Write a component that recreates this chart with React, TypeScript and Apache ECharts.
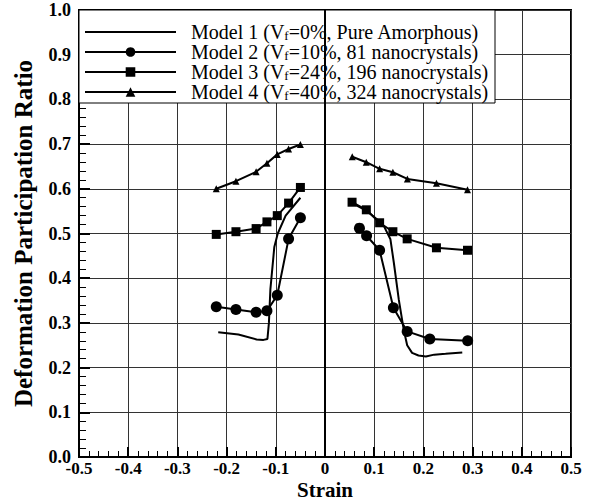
import React, { useEffect, useRef } from "react";
import * as echarts from "echarts";

// ---- data ----
const model1Left: [number, number][] = [
  [-0.217, 0.279], [-0.176, 0.274], [-0.139, 0.263], [-0.125, 0.262], [-0.117, 0.264],
  [-0.114, 0.3], [-0.111, 0.375], [-0.103, 0.47], [-0.096, 0.5], [-0.08, 0.54], [-0.05, 0.58],
];
const model1Right: [number, number][] = [
  [0.055, 0.568], [0.083, 0.552], [0.11, 0.528], [0.12, 0.516], [0.133, 0.487],
  [0.14, 0.434], [0.15, 0.352], [0.16, 0.285], [0.167, 0.25], [0.177, 0.233],
  [0.19, 0.227], [0.205, 0.225], [0.222, 0.229], [0.245, 0.231], [0.279, 0.234],
];
const model2Left: [number, number][] = [
  [-0.221, 0.336], [-0.181, 0.33], [-0.14, 0.324], [-0.118, 0.327], [-0.097, 0.362],
  [-0.074, 0.488], [-0.05, 0.535],
];
const model2Right: [number, number][] = [
  [0.07, 0.512], [0.0845, 0.495], [0.111, 0.4625], [0.139, 0.334], [0.167, 0.281],
  [0.213, 0.264], [0.29, 0.26],
];
const model3Left: [number, number][] = [
  [-0.221, 0.498], [-0.181, 0.504], [-0.14, 0.511], [-0.118, 0.526], [-0.097, 0.54],
  [-0.074, 0.568], [-0.05, 0.603],
];
const model3Right: [number, number][] = [
  [0.055, 0.57], [0.084, 0.553], [0.111, 0.524], [0.138, 0.504], [0.167, 0.488],
  [0.2265, 0.468], [0.2896, 0.4625],
];
const model4Left: [number, number][] = [
  [-0.221, 0.6], [-0.181, 0.617], [-0.14, 0.638], [-0.118, 0.657], [-0.097, 0.677],
  [-0.074, 0.689], [-0.05, 0.699],
];
const model4Right: [number, number][] = [
  [0.0554, 0.6716], [0.0839, 0.6595], [0.111, 0.6447], [0.138, 0.637], [0.1674, 0.622],
  [0.2265, 0.6125], [0.2896, 0.598],
];

const seriesNames = [
  "Model 1 (V{sub|f}=0%, Pure Amorphous)",
  "Model 2 (V{sub|f}=10%, 81 nanocrystals)",
  "Model 3 (V{sub|f}=24%, 196 nanocrystals)",
  "Model 4 (V{sub|f}=40%, 324 nanocrystals)",
];
const seriesNameKeys = ["Model 1", "Model 2", "Model 3", "Model 4"];
const xLabel = "Strain";
const yLabel = "Deformation Participation Ratio";

const SERIF = "Liberation Serif";

export default function App() {
  const ref = useRef<HTMLDivElement>(null);
  useEffect(() => {
    if (!ref.current) return;
    const chart = echarts.init(ref.current, undefined, { renderer: "svg" });

    const mk = (
      key: number,
      data: [number, number][],
      symbol: string,
      symbolSize: number,
      extra: any = {}
    ) => ({
      type: "line",
      name: seriesNameKeys[key],
      data,
      symbol: symbol,
      showSymbol: symbolSize > 0,
      symbolSize,
      lineStyle: { color: "#000", width: 2 },
      itemStyle: { color: "#000" },
      ...extra,
    });

    const option: any = {
      animation: false,
      backgroundColor: "#fff",
      grid: {
        left: 79,
        right: 21,
        top: 10,
        bottom: 45,
        outerBoundsMode: "none",
        containLabel: false,
        show: true,
        borderColor: "#000",
        borderWidth: 2,
        backgroundColor: "transparent",
      },
      xAxis: {
        type: "value",
        min: -0.5,
        max: 0.5,
        interval: 0.1,
        name: xLabel,
        nameLocation: "middle",
        nameGap: 22,
        nameMoveOverlap: false,
        nameTextStyle: { fontFamily: SERIF, fontWeight: "bold", fontSize: 21, lineHeight: 21, color: "#000" },
        axisLine: { show: true, onZero: false, lineStyle: { color: "#000", width: 2 } },
        axisTick: { show: true, inside: true, length: 10, lineStyle: { color: "#000", width: 2 } },
        minorTick: { show: true, splitNumber: 5, length: 6, lineStyle: { color: "#000", width: 1 } },
        splitLine: { show: true, lineStyle: { color: "#333", width: 1 } },
        axisLabel: {
          fontFamily: SERIF,
          fontWeight: "bold",
          fontSize: 17,
          lineHeight: 14,
          color: "#000",
          margin: 4,
          formatter: (v: number) => (Math.abs(v) < 1e-9 ? "0" : v.toFixed(1)),
        },
      },
      yAxis: {
        type: "value",
        min: 0,
        max: 1,
        interval: 0.1,
        name: yLabel,
        nameLocation: "middle",
        nameGap: 43,
        nameMoveOverlap: false,
        nameTextStyle: { fontFamily: SERIF, fontWeight: "bold", fontSize: 25, color: "#000" },
        axisLine: { show: true, onZero: false, lineStyle: { color: "#000", width: 2 } },
        axisTick: { show: true, inside: true, length: 11, lineStyle: { color: "#000", width: 2 } },
        minorTick: { show: true, splitNumber: 5, length: 7, lineStyle: { color: "#000", width: 1 } },
        splitLine: { show: true, lineStyle: { color: "#333", width: 1 } },
        axisLabel: {
          fontFamily: SERIF,
          fontWeight: "bold",
          fontSize: 18,
          lineHeight: 14,
          color: "#000",
          margin: 8,
          formatter: (v: number) => v.toFixed(1),
        },
      },
      legend: {
        show: true,
        orient: "vertical",
        left: 84,
        top: 22,
        padding: 0,
        itemGap: 0,
        itemWidth: 91,
        itemHeight: 12,
        data: [
          { name: seriesNameKeys[0], itemStyle: { color: "rgba(0,0,0,0)", borderWidth: 0 } },
          seriesNameKeys[1],
          seriesNameKeys[2],
          seriesNameKeys[3],
        ],
        formatter: (name: string) => seriesNames[seriesNameKeys.indexOf(name)],
        textStyle: {
          fontFamily: SERIF,
          fontSize: 20,
          color: "#000",
          lineHeight: 19,
          padding: [0, 0, 0, 10],
          rich: {
            sub: { fontFamily: SERIF, fontSize: 13, lineHeight: 4, verticalAlign: "bottom", color: "#000" },
          },
        },
      },
      graphic: [
        {
          type: "rect",
          z: 3,
          shape: { x: 79, y: 10, width: 416, height: 93 },
          style: { fill: "#fff", stroke: "#000", lineWidth: 1 },
        },
      ],
      series: [
        mk(0, model1Left, "circle", 0, {
          itemStyle: { color: "rgba(0,0,0,0)" },
          markLine: {
            silent: true,
            symbol: ["none", "none"],
            label: { show: false },
            lineStyle: { color: "#000", width: 2, type: "solid" },
            data: [{ xAxis: 0 }],
          },
        }),
        mk(0, model1Right, "circle", 0, { itemStyle: { color: "rgba(0,0,0,0)" } }),
        mk(1, model2Left, "circle", 11),
        mk(1, model2Right, "circle", 11),
        mk(2, model3Left, "rect", 9),
        mk(2, model3Right, "rect", 9),
        mk(3, model4Left, "triangle", 7),
        mk(3, model4Right, "triangle", 7),
      ],
    };
    chart.setOption(option);
    return () => chart.dispose();
  }, []);

  return <div ref={ref} style={{ width: 592, height: 502, position: "absolute", left: 0, top: 0 }} />;
}
